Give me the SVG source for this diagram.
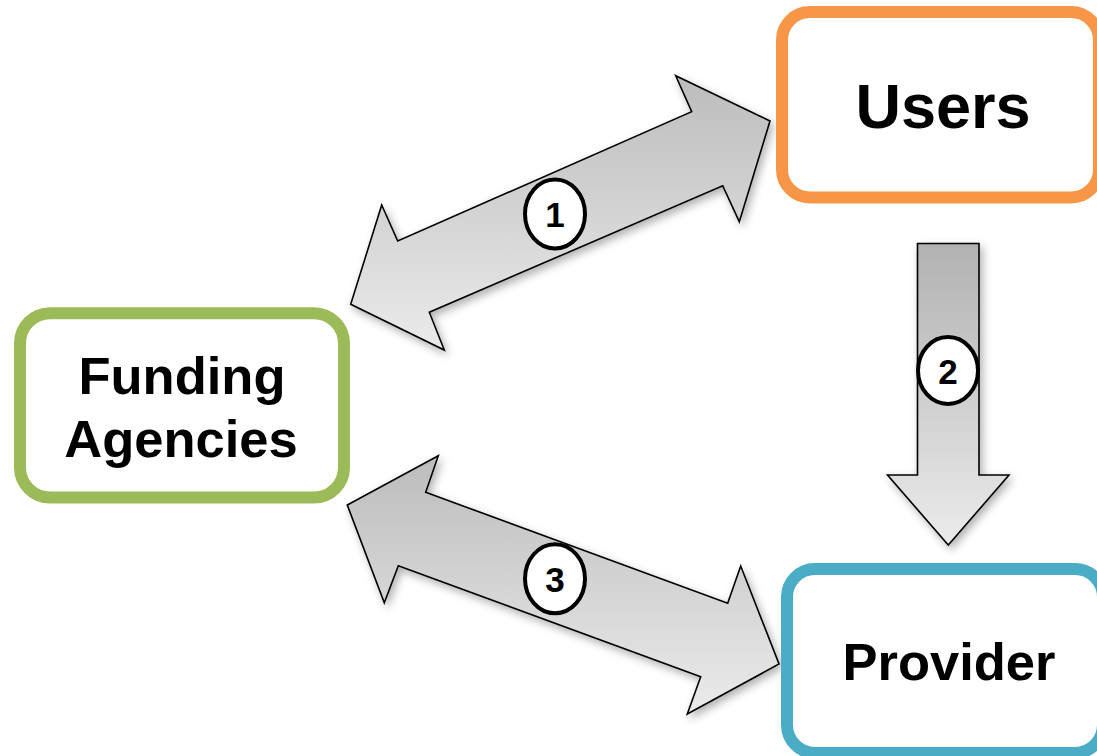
<svg xmlns="http://www.w3.org/2000/svg" width="1097" height="756" viewBox="0 0 1097 756">
  <style>
    .box { fill: #ffffff; stroke-width: 12; }
    .lbl { font-family: "Liberation Sans", Arial, sans-serif; font-weight: bold; fill: #000000; text-anchor: middle; }
    .arrow { stroke: #000000; stroke-width: 1.6; stroke-linejoin: miter; filter: url(#shadow); }
    .badge { fill: #ffffff; stroke: #000000; stroke-width: 4; }
    .num { font-family: "Liberation Sans", Arial, sans-serif; font-weight: bold; font-size: 35px; fill: #000000; text-anchor: middle; }
  </style>
  <defs>
    <linearGradient id="gDiag" x1="0" y1="0" x2="0" y2="1">
      <stop offset="0" stop-color="#bcbcbc"/>
      <stop offset="1" stop-color="#ebebeb"/>
    </linearGradient>
    <linearGradient id="gDown" x1="0" y1="0" x2="0" y2="1">
      <stop offset="0" stop-color="#b2b2b2"/>
      <stop offset="1" stop-color="#ebebeb"/>
    </linearGradient>
    <filter id="shadow" x="-20%" y="-20%" width="140%" height="140%">
      <feDropShadow dx="3" dy="4" stdDeviation="4" flood-color="#000000" flood-opacity="0.3"/>
    </filter>
  </defs>
  <rect width="1097" height="756" fill="#ffffff"/>

  <g id="connectors">
    <g id="arrow1">
      <polygon class="arrow" fill="url(#gDiag)" points="770,121 675.7,75.7 691.7,111.7 397.7,241 381.7,205 350.7,304.3 444.3,350 429.3,312.3 722.7,185.7 739.3,221.7"/>
      <ellipse class="badge" cx="555" cy="214" rx="30" ry="34.5"/>
      <text class="num" x="555" y="226.5">1</text>
    </g>
    <g id="arrow2">
      <polygon class="arrow" fill="url(#gDown)" points="917.5,243.5 979,243.5 979,475 1009,475 948.3,545 887.5,475 917.5,475"/>
      <ellipse class="badge" cx="948" cy="370.5" rx="30" ry="33.5"/>
      <text class="num" x="948" y="383.5">2</text>
    </g>
    <g id="arrow3">
      <polygon class="arrow" fill="url(#gDiag)" points="347.3,505 438.3,455.7 425.7,492.3 727.7,603.3 740.7,566 779,664 687.3,714 700.7,676.7 398.3,565.7 384.3,602.7"/>
      <ellipse class="badge" cx="555" cy="578.7" rx="30" ry="34.5"/>
      <text class="num" x="555" y="591.5">3</text>
    </g>
  </g>

  <g id="node-users">
    <rect class="box" x="782" y="12" width="317" height="185.5" rx="28" ry="28" stroke="#f79646"/>
    <text class="lbl" x="943" y="128" font-size="63">Users</text>
  </g>

  <g id="node-funding">
    <rect class="box" x="20" y="313.3" width="324" height="184.2" rx="30" ry="30" stroke="#9bbb59"/>
    <text class="lbl" x="182" y="394" font-size="52.5">Funding</text>
    <text class="lbl" x="181" y="456.5" font-size="52.5">Agencies</text>
  </g>

  <g id="node-provider">
    <rect class="box" x="787" y="569" width="316" height="184" rx="28" ry="28" stroke="#4bacc6"/>
    <text class="lbl" x="949" y="680" font-size="52.5">Provider</text>
  </g>
</svg>
